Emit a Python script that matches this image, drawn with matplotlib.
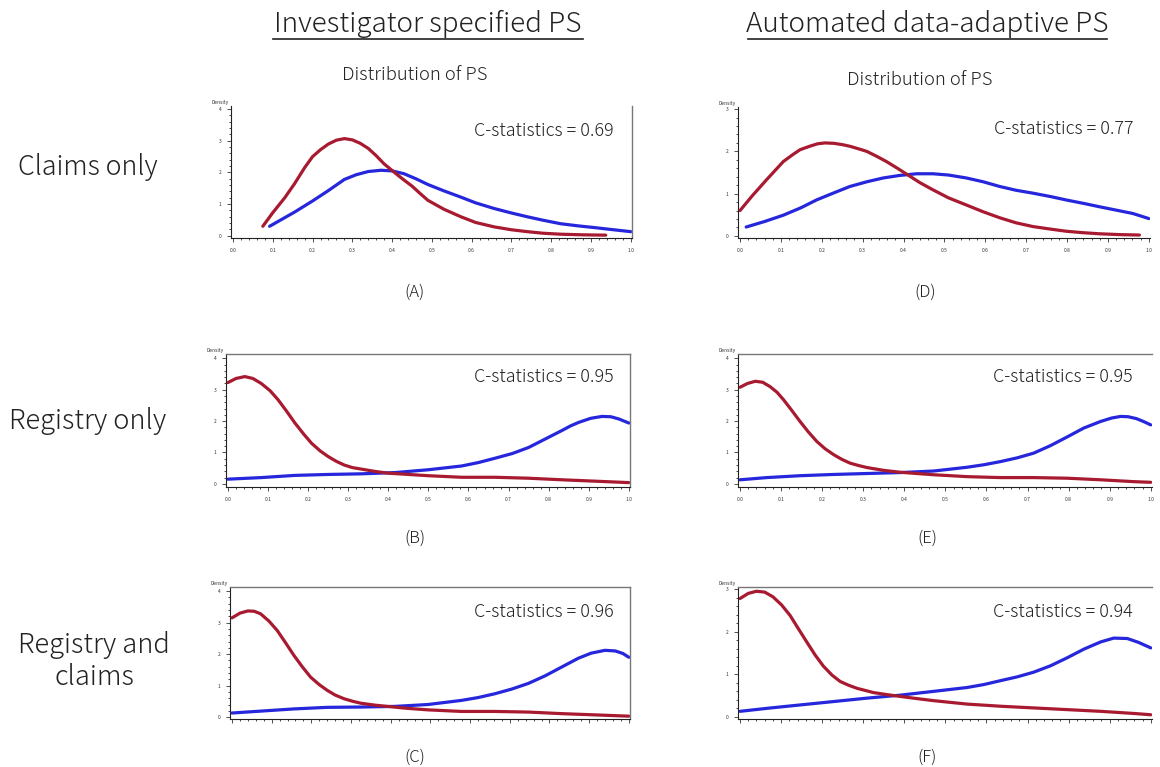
import numpy as np
import matplotlib
matplotlib.use("Agg")
import matplotlib.pyplot as plt
from matplotlib.lines import Line2D
from matplotlib.ticker import AutoMinorLocator, FormatStrFormatter

plt.rcParams['font.family'] = ['Noto Sans CJK JP', 'DejaVu Sans']

W, H = 1160, 767

# ------------------------------
# Data
# ------------------------------
col_titles = ['Investigator specified PS', 'Automated data-adaptive PS']
row_titles = ['Claims only', 'Registry only', 'Registry and\nclaims']
panel_tags = ['(A)', '(B)', '(C)', '(D)', '(E)', '(F)']
c_stats = [0.69, 0.95, 0.96, 0.77, 0.95, 0.94]

a_red_x = [0.075, 0.10, 0.13, 0.155, 0.18, 0.20, 0.22, 0.24, 0.26, 0.28, 0.30, 0.32, 0.34, 0.36, 0.38,
           0.406, 0.43, 0.45, 0.47, 0.49, 0.53, 0.573, 0.61, 0.657, 0.70, 0.74, 0.78, 0.824, 0.88, 0.937]
a_red_y = [0.3, 0.73, 1.2, 1.65, 2.15, 2.5, 2.72, 2.9, 3.02, 3.07, 3.03, 2.92, 2.76, 2.53, 2.27,
           2.0, 1.76, 1.57, 1.34, 1.12, 0.84, 0.6, 0.42, 0.28, 0.19, 0.13, 0.08, 0.05, 0.03, 0.02]
a_blue_x = [0.092, 0.12, 0.155, 0.20, 0.24, 0.28, 0.31, 0.34, 0.372, 0.40, 0.43, 0.46, 0.49, 0.53,
            0.573, 0.61, 0.657, 0.70, 0.74, 0.78, 0.824, 0.87, 0.908, 0.95, 1.0]
a_blue_y = [0.3, 0.5, 0.75, 1.1, 1.43, 1.78, 1.93, 2.03, 2.07, 2.05, 1.96, 1.8, 1.62, 1.42,
            1.22, 1.04, 0.86, 0.72, 0.6, 0.49, 0.38, 0.31, 0.26, 0.2, 0.13]

b_red_x = [0.0, 0.02, 0.042, 0.062, 0.083, 0.105, 0.125, 0.146, 0.167, 0.188, 0.208, 0.23, 0.25, 0.27,
           0.29, 0.31, 0.333, 0.365, 0.4, 0.45, 0.5, 0.583, 0.667, 0.75, 0.833, 0.917, 1.0]
b_red_y = [3.23, 3.36, 3.42, 3.36, 3.2, 2.97, 2.68, 2.32, 1.94, 1.6, 1.3, 1.05, 0.87, 0.72,
           0.6, 0.52, 0.47, 0.4, 0.34, 0.3, 0.26, 0.21, 0.21, 0.18, 0.13, 0.085, 0.04]
b_blue_x = [0.0, 0.083, 0.167, 0.25, 0.333, 0.417, 0.5, 0.583, 0.625, 0.667, 0.71, 0.75, 0.79,
            0.833, 0.855, 0.875, 0.905, 0.933, 0.955, 0.975, 1.0]
b_blue_y = [0.15, 0.2, 0.27, 0.3, 0.32, 0.36, 0.45, 0.57, 0.68, 0.82, 0.97, 1.16, 1.42,
            1.7, 1.85, 1.96, 2.09, 2.15, 2.14, 2.07, 1.94]

c_red_x = [0.0, 0.02, 0.04, 0.056, 0.072, 0.093, 0.114, 0.135, 0.156, 0.177, 0.198, 0.22, 0.24, 0.26,
           0.283, 0.305, 0.325, 0.36, 0.392, 0.44, 0.494, 0.578, 0.662, 0.747, 0.831, 0.916, 1.0]
c_red_y = [3.15, 3.3, 3.37, 3.36, 3.28, 3.05, 2.75, 2.36, 1.96, 1.6, 1.27, 1.03, 0.85, 0.7,
           0.58, 0.5, 0.44, 0.38, 0.34, 0.28, 0.23, 0.18, 0.18, 0.16, 0.11, 0.07, 0.03]
c_blue_x = [0.0, 0.072, 0.156, 0.24, 0.325, 0.41, 0.494, 0.578, 0.62, 0.662, 0.705, 0.747, 0.789,
            0.831, 0.873, 0.905, 0.94, 0.966, 0.985, 1.0]
c_blue_y = [0.13, 0.19, 0.26, 0.31, 0.32, 0.34, 0.4, 0.53, 0.62, 0.74, 0.89, 1.07, 1.31,
            1.59, 1.87, 2.03, 2.12, 2.1, 2.02, 1.9]

d_red_x = [0.0, 0.03, 0.065, 0.106, 0.13, 0.147, 0.17, 0.19, 0.208, 0.23, 0.25, 0.269, 0.29, 0.31,
           0.335, 0.358, 0.385, 0.411, 0.44, 0.472, 0.51, 0.554, 0.595, 0.635, 0.675, 0.717, 0.76,
           0.798, 0.84, 0.879, 0.93, 0.977]
d_red_y = [0.6, 0.95, 1.33, 1.76, 1.93, 2.04, 2.12, 2.18, 2.2, 2.19, 2.16, 2.12, 2.06, 2.0,
           1.88, 1.76, 1.6, 1.44, 1.26, 1.09, 0.9, 0.73, 0.57, 0.43, 0.31, 0.22, 0.16,
           0.11, 0.075, 0.05, 0.03, 0.02]
d_blue_x = [0.015, 0.06, 0.106, 0.15, 0.187, 0.23, 0.269, 0.31, 0.35, 0.39, 0.432, 0.472, 0.51,
            0.554, 0.595, 0.635, 0.675, 0.717, 0.76, 0.798, 0.84, 0.879, 0.92, 0.961, 1.0]
d_blue_y = [0.21, 0.34, 0.49, 0.67, 0.85, 1.02, 1.17, 1.28, 1.37, 1.43, 1.47, 1.47, 1.44,
            1.37, 1.28, 1.17, 1.08, 1.01, 0.93, 0.85, 0.77, 0.69, 0.61, 0.53, 0.41]

e_red_x = [0.0, 0.018, 0.037, 0.055, 0.073, 0.09, 0.106, 0.126, 0.146, 0.166, 0.187, 0.207, 0.228,
           0.248, 0.268, 0.29, 0.309, 0.35, 0.39, 0.43, 0.472, 0.553, 0.634, 0.715, 0.797, 0.878,
           0.959, 1.0]
e_red_y = [3.08, 3.2, 3.27, 3.24, 3.1, 2.92, 2.68, 2.34, 1.99, 1.66, 1.35, 1.12, 0.93,
           0.78, 0.66, 0.58, 0.52, 0.43, 0.37, 0.33, 0.29, 0.23, 0.2, 0.2, 0.18, 0.13,
           0.07, 0.05]
e_blue_x = [0.0, 0.065, 0.146, 0.228, 0.309, 0.39, 0.472, 0.553, 0.594, 0.634, 0.675, 0.715, 0.756,
            0.797, 0.837, 0.878, 0.905, 0.927, 0.945, 0.965, 0.982, 1.0]
e_blue_y = [0.13, 0.2, 0.26, 0.3, 0.33, 0.36, 0.41, 0.53, 0.61, 0.71, 0.83, 0.98, 1.22,
            1.5, 1.78, 1.99, 2.1, 2.15, 2.14, 2.08, 1.99, 1.88]

f_red_x = [0.0, 0.02, 0.04, 0.06, 0.08, 0.101, 0.122, 0.142, 0.163, 0.183, 0.203, 0.224, 0.244,
           0.265, 0.285, 0.305, 0.325, 0.36, 0.39, 0.43, 0.472, 0.553, 0.634, 0.715, 0.797, 0.878,
           0.959, 1.0]
f_red_y = [2.78, 2.9, 2.95, 2.93, 2.82, 2.63, 2.38, 2.07, 1.75, 1.45, 1.19, 0.98, 0.83,
           0.74, 0.67, 0.62, 0.57, 0.52, 0.48, 0.43, 0.38, 0.3, 0.25, 0.21, 0.17, 0.13,
           0.08, 0.05]
f_blue_x = [0.0, 0.065, 0.146, 0.228, 0.309, 0.39, 0.472, 0.553, 0.594, 0.634, 0.675, 0.715, 0.756,
            0.797, 0.837, 0.878, 0.91, 0.943, 0.97, 1.0]
f_blue_y = [0.13, 0.2, 0.28, 0.36, 0.44, 0.51, 0.6, 0.69, 0.76, 0.85, 0.94, 1.05, 1.2,
            1.39, 1.59, 1.76, 1.85, 1.84, 1.75, 1.62]

curves = [
    (a_red_x, a_red_y, a_blue_x, a_blue_y),
    (b_red_x, b_red_y, b_blue_x, b_blue_y),
    (c_red_x, c_red_y, c_blue_x, c_blue_y),
    (d_red_x, d_red_y, d_blue_x, d_blue_y),
    (e_red_x, e_red_y, e_blue_x, e_blue_y),
    (f_red_x, f_red_y, f_blue_x, f_blue_y),
]

RED = '#a81a30'
BLUE = '#2626dc'
TXT = '#222222'

# ------------------------------
# Layout (pixel boxes: left, top, right, bottom)
# ------------------------------
boxes = [(231, 106, 632, 238), (226, 354, 630, 487), (230, 587, 630, 719),
         (738, 107, 1150, 238), (738, 354, 1152, 487), (738, 587, 1152, 719)]
ylims = [(-0.07, 4.1), (-0.1, 4.14), (-0.06, 4.13),
         (-0.05, 3.05), (-0.1, 4.14), (-0.05, 3.05)]
ymax_tick = [4, 4, 4, 3, 4, 3]
spines_on = [('left', 'bottom', 'right'), ('left', 'bottom', 'top', 'right'),
             ('left', 'bottom', 'top', 'right'), ('left', 'bottom'),
             ('left', 'bottom', 'top'), ('left', 'bottom', 'top')]
show_xlabels = [True, True, False, True, True, False]
stat_pos = [(614, 136), (614, 382), (614, 617), (1133, 134), (1133, 382), (1133, 617)]
tag_pos = [(415, 292), (415, 538), (415, 757), (925, 292), (927, 538), (927, 757)]


def fx(x):
    return x / W


def fy(y):
    return 1 - y / H


fig = plt.figure(figsize=(W / 100, H / 100), dpi=100)

for i, (rx, ry, bx, by) in enumerate(curves):
    l, t, r, b = boxes[i]
    ax = fig.add_axes([fx(l), fy(b), (r - l) / W, (b - t) / H])
    ax.plot(bx, by, color=BLUE, lw=2.3, solid_joinstyle='round', solid_capstyle='round')
    ax.plot(rx, ry, color=RED, lw=2.3, solid_joinstyle='round', solid_capstyle='round')
    ax.set_xlim(-0.005, 1.003)
    ax.set_ylim(*ylims[i])
    ax.set_xticks(np.arange(0, 1.01, 0.1))
    ax.set_yticks(np.arange(0, ymax_tick[i] + 1, 1))
    ax.xaxis.set_minor_locator(AutoMinorLocator(5))
    ax.yaxis.set_minor_locator(AutoMinorLocator(5))
    ax.xaxis.set_major_formatter(FormatStrFormatter('%.1f'))
    ax.tick_params(which='major', length=3, width=0.6, labelsize=3.5, pad=4, colors='#333333')
    ax.tick_params(which='minor', length=1.5, width=0.5)
    if not show_xlabels[i]:
        ax.tick_params(axis='x', labelbottom=False)
    for side in ['left', 'bottom', 'top', 'right']:
        sp = ax.spines[side]
        if side in spines_on[i]:
            sp.set_visible(True)
            sp.set_linewidth(0.8 if side in ('left', 'bottom') else 1.0)
            sp.set_color('#222222' if side in ('left', 'bottom') else '#777777')
        else:
            sp.set_visible(False)
    ax.text(-0.005, 1.005, 'Density', transform=ax.transAxes, ha='right', va='bottom',
            fontsize=3.5, color='#333333')
    fig.text(fx(stat_pos[i][0]), fy(stat_pos[i][1]), 'C-statistics = %.2f' % c_stats[i],
             ha='right', va='baseline', fontsize=12.9, color=TXT, fontweight='light')
    fig.text(fx(tag_pos[i][0]), fy(tag_pos[i][1]), panel_tags[i],
             ha='center', va='center', fontsize=12, color=TXT, fontweight='light')

# column headers with underline
for cx, (u0, u1), title in zip([428, 927], [(273, 583), (748, 1107)], col_titles):
    fig.text(fx(cx), fy(32), title, ha='center', va='baseline', fontsize=20.1, color=TXT,
             fontweight='light')
    fig.add_artist(Line2D([fx(u0), fx(u1)], [fy(39), fy(39)], color=TXT, lw=1.2))

fig.text(fx(415), fy(80), 'Distribution of PS', ha='center', va='baseline', fontsize=13.3,
         color=TXT, fontweight='light')
fig.text(fx(920), fy(85), 'Distribution of PS', ha='center', va='baseline', fontsize=13.3,
         color=TXT, fontweight='light')

# row labels
fig.text(fx(88), fy(175), row_titles[0], ha='center', va='baseline', fontsize=19.3, color=TXT,
         fontweight='light')
fig.text(fx(88), fy(429), row_titles[1], ha='center', va='baseline', fontsize=19.6, color=TXT,
         fontweight='light')
fig.text(fx(94), fy(661), row_titles[2], ha='center', va='center', fontsize=19.6, color=TXT,
         fontweight='light', linespacing=1.15)

fig.savefig('out.png', dpi=100)
